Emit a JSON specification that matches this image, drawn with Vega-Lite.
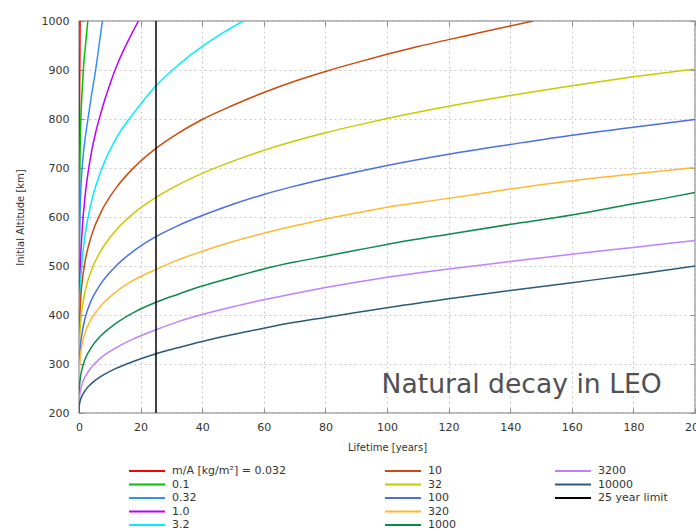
{
  "$schema": "https://vega.github.io/schema/vega-lite/v6.json",
  "width": 616,
  "height": 392,
  "autosize": {"type": "none"},
  "padding": {"left": 79, "top": 21, "right": 1, "bottom": 118},
  "background": "white",
  "config": {
    "view": {"stroke": "#a0a0a0", "strokeWidth": 1.5},
    "font": "DejaVu Sans",
    "axis": {
      "labelFont": "DejaVu Sans",
      "labelFontSize": 11,
      "labelColor": "#333333",
      "titleFont": "DejaVu Sans",
      "titleFontSize": 10,
      "titleFontWeight": "normal",
      "titleColor": "#333333",
      "domain": false,
      "tickColor": "#909090",
      "tickSize": -5,
      "tickWidth": 1,
      "gridColor": "#c8c8c8",
      "gridDash": [2, 3],
      "gridWidth": 1
    }
  },
  "datasets": {
    "curves": [
      {"s": "m/A [kg/m²] = 0.032", "t": 0, "h": 200},
      {"s": "m/A [kg/m²] = 0.032", "t": 0.02, "h": 400},
      {"s": "m/A [kg/m²] = 0.032", "t": 0.05, "h": 600},
      {"s": "m/A [kg/m²] = 0.032", "t": 0.1, "h": 700},
      {"s": "m/A [kg/m²] = 0.032", "t": 0.15, "h": 800},
      {"s": "m/A [kg/m²] = 0.032", "t": 0.25, "h": 900},
      {"s": "m/A [kg/m²] = 0.032", "t": 0.35, "h": 1000},

      {"s": "0.1", "t": 0, "h": 200},
      {"s": "0.1", "t": 0.05, "h": 450},
      {"s": "0.1", "t": 0.2, "h": 650},
      {"s": "0.1", "t": 0.35, "h": 730},
      {"s": "0.1", "t": 0.6, "h": 800},
      {"s": "0.1", "t": 1.0, "h": 855},
      {"s": "0.1", "t": 1.4, "h": 900},
      {"s": "0.1", "t": 2.1, "h": 950},
      {"s": "0.1", "t": 2.85, "h": 1000},

      {"s": "0.32", "t": 0, "h": 200},
      {"s": "0.32", "t": 0.05, "h": 400},
      {"s": "0.32", "t": 0.15, "h": 530},
      {"s": "0.32", "t": 0.35, "h": 610},
      {"s": "0.32", "t": 0.7, "h": 670},
      {"s": "0.32", "t": 1.2, "h": 715},
      {"s": "0.32", "t": 2.0, "h": 760},
      {"s": "0.32", "t": 2.9, "h": 800},
      {"s": "0.32", "t": 4.1, "h": 850},
      {"s": "0.32", "t": 5.4, "h": 900},
      {"s": "0.32", "t": 6.5, "h": 950},
      {"s": "0.32", "t": 7.6, "h": 1000},

      {"s": "1.0", "t": 0, "h": 200},
      {"s": "1.0", "t": 0.01, "h": 312},
      {"s": "1.0", "t": 0.1, "h": 404},
      {"s": "1.0", "t": 0.4, "h": 492},
      {"s": "1.0", "t": 1, "h": 570},
      {"s": "1.0", "t": 2, "h": 644},
      {"s": "1.0", "t": 3, "h": 693},
      {"s": "1.0", "t": 4, "h": 731},
      {"s": "1.0", "t": 5.5, "h": 775},
      {"s": "1.0", "t": 7, "h": 810},
      {"s": "1.0", "t": 8.5, "h": 842},
      {"s": "1.0", "t": 10, "h": 870},
      {"s": "1.0", "t": 11.7, "h": 900},
      {"s": "1.0", "t": 13, "h": 920},
      {"s": "1.0", "t": 16, "h": 960},
      {"s": "1.0", "t": 19.3, "h": 1000},

      {"s": "3.2", "t": 0, "h": 200},
      {"s": "3.2", "t": 0.01, "h": 302},
      {"s": "3.2", "t": 0.1, "h": 378},
      {"s": "3.2", "t": 0.4, "h": 448},
      {"s": "3.2", "t": 1, "h": 509},
      {"s": "3.2", "t": 2, "h": 564},
      {"s": "3.2", "t": 4, "h": 630},
      {"s": "3.2", "t": 7, "h": 692},
      {"s": "3.2", "t": 12, "h": 760},
      {"s": "3.2", "t": 18, "h": 814},
      {"s": "3.2", "t": 25, "h": 868},
      {"s": "3.2", "t": 32, "h": 909},
      {"s": "3.2", "t": 40, "h": 948},
      {"s": "3.2", "t": 46, "h": 973},
      {"s": "3.2", "t": 53.3, "h": 1000},

      {"s": "10", "t": 0, "h": 200},
      {"s": "10", "t": 0.01, "h": 296},
      {"s": "10", "t": 0.1, "h": 360},
      {"s": "10", "t": 0.4, "h": 417},
      {"s": "10", "t": 1, "h": 466},
      {"s": "10", "t": 2, "h": 510},
      {"s": "10", "t": 4, "h": 561},
      {"s": "10", "t": 7, "h": 608},
      {"s": "10", "t": 12, "h": 659},
      {"s": "10", "t": 18, "h": 702},
      {"s": "10", "t": 25, "h": 740},
      {"s": "10", "t": 32, "h": 770},
      {"s": "10", "t": 40, "h": 799},
      {"s": "10", "t": 50, "h": 828},
      {"s": "10", "t": 60, "h": 854},
      {"s": "10", "t": 70, "h": 877},
      {"s": "10", "t": 80, "h": 897},
      {"s": "10", "t": 90, "h": 915},
      {"s": "10", "t": 100, "h": 932},
      {"s": "10", "t": 110, "h": 948},
      {"s": "10", "t": 120, "h": 962},
      {"s": "10", "t": 130, "h": 976},
      {"s": "10", "t": 140, "h": 990},
      {"s": "10", "t": 147.5, "h": 1000},

      {"s": "32", "t": 0, "h": 200},
      {"s": "32", "t": 0.01, "h": 276},
      {"s": "32", "t": 0.1, "h": 327},
      {"s": "32", "t": 0.4, "h": 374},
      {"s": "32", "t": 1, "h": 413},
      {"s": "32", "t": 2, "h": 449},
      {"s": "32", "t": 4, "h": 491},
      {"s": "32", "t": 7, "h": 530},
      {"s": "32", "t": 12, "h": 573},
      {"s": "32", "t": 18, "h": 609},
      {"s": "32", "t": 25, "h": 640},
      {"s": "32", "t": 32, "h": 665},
      {"s": "32", "t": 40, "h": 689},
      {"s": "32", "t": 50, "h": 714},
      {"s": "32", "t": 60, "h": 736},
      {"s": "32", "t": 70, "h": 755},
      {"s": "32", "t": 80, "h": 772},
      {"s": "32", "t": 90, "h": 787},
      {"s": "32", "t": 100, "h": 801},
      {"s": "32", "t": 120, "h": 826},
      {"s": "32", "t": 140, "h": 848},
      {"s": "32", "t": 160, "h": 868},
      {"s": "32", "t": 180, "h": 886},
      {"s": "32", "t": 200, "h": 902},

      {"s": "100", "t": 0, "h": 200},
      {"s": "100", "t": 0.01, "h": 253},
      {"s": "100", "t": 0.1, "h": 293},
      {"s": "100", "t": 0.4, "h": 331},
      {"s": "100", "t": 1, "h": 363},
      {"s": "100", "t": 2, "h": 394},
      {"s": "100", "t": 4, "h": 430},
      {"s": "100", "t": 7, "h": 463},
      {"s": "100", "t": 12, "h": 500},
      {"s": "100", "t": 18, "h": 532},
      {"s": "100", "t": 25, "h": 560},
      {"s": "100", "t": 32, "h": 582},
      {"s": "100", "t": 40, "h": 603},
      {"s": "100", "t": 50, "h": 626},
      {"s": "100", "t": 60, "h": 646},
      {"s": "100", "t": 70, "h": 663},
      {"s": "100", "t": 80, "h": 678},
      {"s": "100", "t": 90, "h": 692},
      {"s": "100", "t": 100, "h": 705},
      {"s": "100", "t": 120, "h": 728},
      {"s": "100", "t": 140, "h": 748},
      {"s": "100", "t": 160, "h": 767},
      {"s": "100", "t": 180, "h": 783},
      {"s": "100", "t": 200, "h": 799},

      {"s": "320", "t": 0, "h": 200},
      {"s": "320", "t": 0.01, "h": 248},
      {"s": "320", "t": 0.1, "h": 282},
      {"s": "320", "t": 0.4, "h": 313},
      {"s": "320", "t": 1, "h": 340},
      {"s": "320", "t": 2, "h": 364},
      {"s": "320", "t": 4, "h": 392},
      {"s": "320", "t": 7, "h": 418},
      {"s": "320", "t": 12, "h": 447},
      {"s": "320", "t": 18, "h": 472},
      {"s": "320", "t": 25, "h": 493},
      {"s": "320", "t": 32, "h": 512},
      {"s": "320", "t": 40, "h": 530},
      {"s": "320", "t": 50, "h": 550},
      {"s": "320", "t": 60, "h": 567},
      {"s": "320", "t": 70, "h": 582},
      {"s": "320", "t": 80, "h": 596},
      {"s": "320", "t": 90, "h": 608},
      {"s": "320", "t": 100, "h": 620},
      {"s": "320", "t": 120, "h": 638},
      {"s": "320", "t": 140, "h": 657},
      {"s": "320", "t": 160, "h": 674},
      {"s": "320", "t": 180, "h": 688},
      {"s": "320", "t": 200, "h": 701},

      {"s": "1000", "t": 0, "h": 200},
      {"s": "1000", "t": 0.01, "h": 224},
      {"s": "1000", "t": 0.1, "h": 247},
      {"s": "1000", "t": 0.4, "h": 270},
      {"s": "1000", "t": 1, "h": 290},
      {"s": "1000", "t": 2, "h": 310},
      {"s": "1000", "t": 4, "h": 334},
      {"s": "1000", "t": 7, "h": 357},
      {"s": "1000", "t": 12, "h": 383},
      {"s": "1000", "t": 18, "h": 406},
      {"s": "1000", "t": 25, "h": 426},
      {"s": "1000", "t": 32, "h": 442},
      {"s": "1000", "t": 40, "h": 459},
      {"s": "1000", "t": 50, "h": 477},
      {"s": "1000", "t": 60, "h": 494},
      {"s": "1000", "t": 70, "h": 508},
      {"s": "1000", "t": 80, "h": 520},
      {"s": "1000", "t": 90, "h": 532},
      {"s": "1000", "t": 100, "h": 544},
      {"s": "1000", "t": 120, "h": 565},
      {"s": "1000", "t": 140, "h": 585},
      {"s": "1000", "t": 160, "h": 604},
      {"s": "1000", "t": 180, "h": 627},
      {"s": "1000", "t": 190, "h": 638},
      {"s": "1000", "t": 200, "h": 650},

      {"s": "3200", "t": 0, "h": 200},
      {"s": "3200", "t": 0.01, "h": 213},
      {"s": "3200", "t": 0.1, "h": 227},
      {"s": "3200", "t": 0.4, "h": 243},
      {"s": "3200", "t": 1, "h": 259},
      {"s": "3200", "t": 2, "h": 274},
      {"s": "3200", "t": 4, "h": 293},
      {"s": "3200", "t": 7, "h": 312},
      {"s": "3200", "t": 12, "h": 333},
      {"s": "3200", "t": 18, "h": 352},
      {"s": "3200", "t": 25, "h": 370},
      {"s": "3200", "t": 32, "h": 386},
      {"s": "3200", "t": 40, "h": 401},
      {"s": "3200", "t": 50, "h": 417},
      {"s": "3200", "t": 60, "h": 431},
      {"s": "3200", "t": 70, "h": 444},
      {"s": "3200", "t": 80, "h": 456},
      {"s": "3200", "t": 90, "h": 467},
      {"s": "3200", "t": 100, "h": 477},
      {"s": "3200", "t": 120, "h": 494},
      {"s": "3200", "t": 140, "h": 509},
      {"s": "3200", "t": 160, "h": 524},
      {"s": "3200", "t": 180, "h": 538},
      {"s": "3200", "t": 200, "h": 552},

      {"s": "10000", "t": 0, "h": 200},
      {"s": "10000", "t": 0.01, "h": 206},
      {"s": "10000", "t": 0.1, "h": 215},
      {"s": "10000", "t": 0.4, "h": 225},
      {"s": "10000", "t": 1, "h": 235},
      {"s": "10000", "t": 2, "h": 246},
      {"s": "10000", "t": 4, "h": 260},
      {"s": "10000", "t": 7, "h": 274},
      {"s": "10000", "t": 12, "h": 291},
      {"s": "10000", "t": 18, "h": 306},
      {"s": "10000", "t": 25, "h": 321},
      {"s": "10000", "t": 32, "h": 333},
      {"s": "10000", "t": 40, "h": 346},
      {"s": "10000", "t": 50, "h": 360},
      {"s": "10000", "t": 60, "h": 373},
      {"s": "10000", "t": 70, "h": 385},
      {"s": "10000", "t": 80, "h": 395},
      {"s": "10000", "t": 90, "h": 405},
      {"s": "10000", "t": 100, "h": 415},
      {"s": "10000", "t": 120, "h": 433},
      {"s": "10000", "t": 140, "h": 450},
      {"s": "10000", "t": 160, "h": 466},
      {"s": "10000", "t": 180, "h": 482},
      {"s": "10000", "t": 200, "h": 500}
    ],
    "limit": [{"s": "25 year limit", "t": 25}],
    "note": [{"label": "Natural decay in LEO", "t": 189.2, "h": 241}]
  },
  "layer": [
    {
      "data": {"name": "curves"},
      "mark": {"type": "line", "strokeWidth": 1.5, "interpolate": "monotone", "clip": true},
      "encoding": {
        "x": {
          "field": "t", "type": "quantitative",
          "scale": {"domain": [0, 200], "nice": false, "zero": false},
          "axis": {
            "orient": "bottom",
            "values": [0, 20, 40, 60, 80, 100, 120, 140, 160, 180, 200],
            "format": "d",
            "grid": true,
            "labelPadding": 13,
            "labelFlush": false,
            "title": "Lifetime [years]",
            "titlePadding": 10
          }
        },
        "y": {
          "field": "h", "type": "quantitative",
          "scale": {"domain": [200, 1000], "nice": false, "zero": false},
          "axis": {
            "orient": "left",
            "values": [200, 300, 400, 500, 600, 700, 800, 900, 1000],
            "format": "d",
            "grid": true,
            "labelPadding": 15,
            "labelFlush": false,
            "title": "Initial Altitude [km]",
            "titlePadding": 16
          }
        },
        "color": {
          "field": "s", "type": "nominal",
          "scale": {
            "domain": ["m/A [kg/m²] = 0.032", "0.1", "0.32", "1.0", "3.2", "10", "32", "100", "320", "1000", "3200", "10000", "25 year limit", " ", "  "],
            "range": ["#ff0000", "#00c000", "#2f8fff", "#bb00ff", "#00eeff", "#cc4a0e", "#c9c900", "#4a6fe3", "#ffb830", "#0d8a4b", "#c080ff", "#2a5a7a", "#000000", "rgba(0,0,0,0)", "rgba(0,0,0,0)"]
          },
          "legend": {
            "orient": "none",
            "legendX": 49,
            "legendY": 443,
            "columns": 3,
            "title": null,
            "padding": 0,
            "symbolType": "M-3,0H3",
            "symbolSize": 144,
            "symbolStrokeWidth": 2,
            "symbolOffset": 12,
            "labelOffset": 18,
            "labelFont": "DejaVu Sans",
            "labelFontSize": 11,
            "labelColor": "#333333",
            "labelLimit": 300,
            "rowPadding": 1.5,
            "columnPadding": 95
          }
        }
      }
    },
    {
      "data": {"name": "limit"},
      "mark": {"type": "rule", "strokeWidth": 1.5},
      "encoding": {
        "x": {"field": "t", "type": "quantitative", "axis": null},
        "color": {"field": "s", "type": "nominal"}
      }
    },
    {
      "data": {"name": "note"},
      "mark": {"type": "text", "align": "right", "baseline": "alphabetic", "fontSize": 26.6, "font": "DejaVu Sans", "color": "#505055"},
      "encoding": {
        "x": {
          "field": "t", "type": "quantitative",
          "axis": {"orient": "top", "values": [0, 20, 40, 60, 80, 100, 120, 140, 160, 180, 200], "labels": false, "title": null, "grid": false}
        },
        "y": {
          "field": "h", "type": "quantitative",
          "axis": {"orient": "right", "values": [200, 300, 400, 500, 600, 700, 800, 900, 1000], "labels": false, "title": null, "grid": false}
        },
        "text": {"field": "label"}
      }
    }
  ],
  "resolve": {"axis": {"x": "independent", "y": "independent"}}
}
